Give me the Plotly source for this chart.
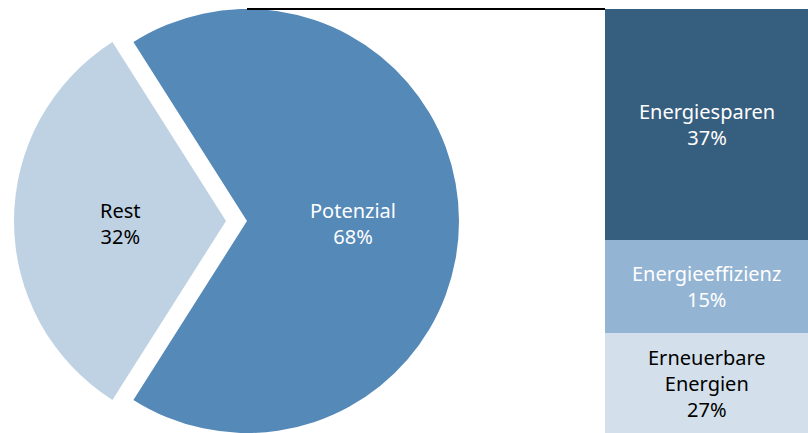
import math
import plotly.graph_objects as go

# Share of the total split into potential and rest
pie_labels = ["Potenzial", "Rest"]
pie_values = [68, 32]
pie_colors = ["#5489b8", "#bfd2e3"]
pie_text_colors = ["white", "black"]

# Breakdown of the potential (stacked bottom to top)
bar_labels = ["Erneuerbare<br>Energien", "Energieeffizienz", "Energiesparen"]
bar_values = [27, 15, 37]
bar_colors = ["#d3e0eb", "#93b4d2", "#365e7e"]
bar_text_colors = ["black", "white", "white"]

W, H = 808, 433
FONT = "Noto Sans"
FONT_SIZE = 20

# layout geometry in pixels
pie_cx_px, pie_r_px, pie_top_px = 247, 212, 9
pie_cy_px = pie_top_px + pie_r_px
pull_px = [0, 21]          # horizontal offset of each slice's wedge
bar_left_px = 605
px_per_unit = 6.24

total_pie = sum(pie_values)
rotation = 90 - 360 * pie_values[0] / total_pie / 2

pie_ydom = [0, 1 - pie_top_px / H]


def pie_trace(visible_idx):
    cx = pie_cx_px - pull_px[visible_idx]
    colors = [c if i == visible_idx else "rgba(0,0,0,0)" for i, c in enumerate(pie_colors)]
    return go.Pie(
        labels=pie_labels,
        values=pie_values,
        sort=False,
        direction="clockwise",
        rotation=rotation,
        marker=dict(colors=colors, line=dict(width=0)),
        textinfo="none",
        domain=dict(x=[(cx - pie_r_px) / W, (cx + pie_r_px) / W], y=pie_ydom),
        showlegend=False,
        hoverinfo="label+percent",
    )


fig = go.Figure()
for i in range(len(pie_labels)):
    fig.add_trace(pie_trace(i))

for lab, val, col in zip(bar_labels, bar_values, bar_colors):
    fig.add_trace(go.Bar(
        x=[""], y=[val], name=lab, marker=dict(color=col, line=dict(width=0)),
        width=1, showlegend=False, hoverinfo="name+y",
    ))

annotations = []

# pie labels at half radius along each slice's middle angle
cum = 0
for i, (lab, val) in enumerate(zip(pie_labels, pie_values)):
    mid = math.radians(rotation + 360 * (cum + val / 2) / total_pie)
    cum += val
    cx = pie_cx_px - pull_px[i]
    x_px = cx + 0.5 * pie_r_px * math.sin(mid)
    y_px = pie_cy_px - 0.5 * pie_r_px * math.cos(mid)
    annotations.append(dict(
        x=x_px / W, y=1 - y_px / H, xref="paper", yref="paper", showarrow=False,
        xanchor="center", yanchor="middle",
        text=f"{lab}<br>{round(100 * val / total_pie)}%", yshift=-2,
        font=dict(family=FONT, size=FONT_SIZE, color=pie_text_colors[i]),
    ))

bar_total = sum(bar_values)
y_hi = bar_total + pie_top_px / px_per_unit
y_lo = y_hi - H / px_per_unit

# bar labels centred in the visible part of each segment
base = 0
for lab, val, tc in zip(bar_labels, bar_values, bar_text_colors):
    lo, hi = max(base, y_lo), min(base + val, y_hi)
    annotations.append(dict(
        x=0, y=(lo + hi) / 2, xref="x", yref="y", showarrow=False,
        xanchor="center", yanchor="middle",
        text=f"{lab}<br>{val}%",
        font=dict(family=FONT, size=FONT_SIZE, color=tc),
    ))
    base += val

fig.update_layout(
    width=W, height=H,
    margin=dict(l=0, r=0, t=0, b=0),
    paper_bgcolor="white", plot_bgcolor="white",
    barmode="stack", bargap=0,
    xaxis=dict(domain=[bar_left_px / W, 1], range=[-0.5, 0.5], visible=False),
    yaxis=dict(domain=[0, 1], range=[y_lo, y_hi], visible=False),
    annotations=annotations,
    shapes=[dict(
        type="line", xref="paper", yref="y",
        x0=pie_cx_px / W, x1=bar_left_px / W, y0=bar_total, y1=bar_total,
        line=dict(color="black", width=2),
    )],
)

fig.write_html("out.html")
